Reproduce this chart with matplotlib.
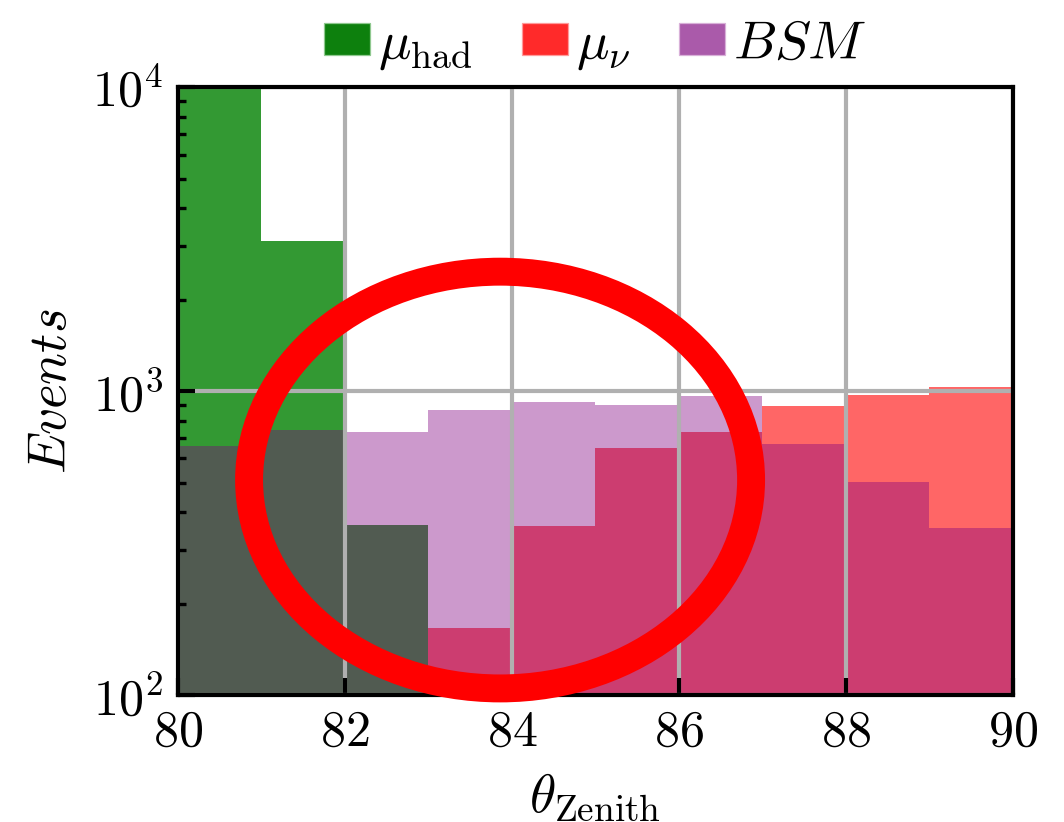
from matplotlib import pyplot as plt
from matplotlib.patches import Patch, Ellipse
import numpy as np

plt.rcParams['font.family'] = 'serif'
plt.rcParams['font.serif'] = ['cmr10']
plt.rcParams['mathtext.fontset'] = 'cm'
plt.rcParams['axes.formatter.use_mathtext'] = True
plt.rcParams['font.size'] = 12

# bin edges of the zenith angle histogram
edges = [80, 81, 82, 83, 84, 85, 86, 87, 88, 89, 90]
mu_had = [10500, 3110, 362, 0, 0, 0, 0, 0, 0, 0]
mu_nu = [0, 0, 0, 166, 360, 649, 733, 893, 970, 1031]
bsm = [659, 744, 733, 866, 920, 899, 963, 669, 502, 354]

centers = np.array(edges[:-1]) + 0.5

fig = plt.figure(figsize=(1064 / 300, 822 / 300), dpi=300)
ax = fig.add_axes([0.167, 0.1545, 0.785, 0.7395])

ax.hist(centers, edges, weights=mu_had, color='green', alpha=0.8, log=True)
ax.hist(centers, edges, weights=mu_nu, color='red', alpha=0.6, log=True)
ax.hist(centers, edges, weights=bsm, color='purple', alpha=0.4, log=True)

ax.set_xlim(80, 90)
ax.set_ylim(1e2, 1e4)
ax.set_xticks([80, 82, 84, 86, 88, 90])
ax.grid(True, color='#b0b0b0', linewidth=1.0)
ax.tick_params(which='both', direction='in', top=False, right=False)
ax.tick_params(which='major', length=4, width=1)
ax.tick_params(which='minor', length=2, width=0.8)
for s in ax.spines.values():
    s.set_linewidth(1.0)

ax.set_xlabel(r'$\theta_{\rm Zenith}$', fontsize=12.8)
ax.set_ylabel(r'$Events$', fontsize=12.8)

handles = [Patch(facecolor='#0d800d', edgecolor='#8fc88f', linewidth=0.3),
           Patch(facecolor='#ff2a2a', edgecolor='#ff9a9a', linewidth=0.3),
           Patch(facecolor='#aa5aaa', edgecolor='#d8b0d8', linewidth=0.3)]
ax.legend(handles, [r'$\mu_{\rm had}$', r'$\mu_\nu$', r'$BSM$'], ncol=3,
          loc='lower center', bbox_to_anchor=(0.5, 0.99), frameon=False,
          fontsize=13, handlelength=0.85, handleheight=0.55, handletextpad=0.15,
          columnspacing=0.9, borderaxespad=0.0)

# red circle highlighting the region
ring = Ellipse((0.470, 0.416), 0.4718, 0.507, transform=fig.transFigure,
               fill=False, edgecolor='red', linewidth=6.7, clip_on=False)
fig.add_artist(ring)

fig.savefig('out.png', dpi=300)
